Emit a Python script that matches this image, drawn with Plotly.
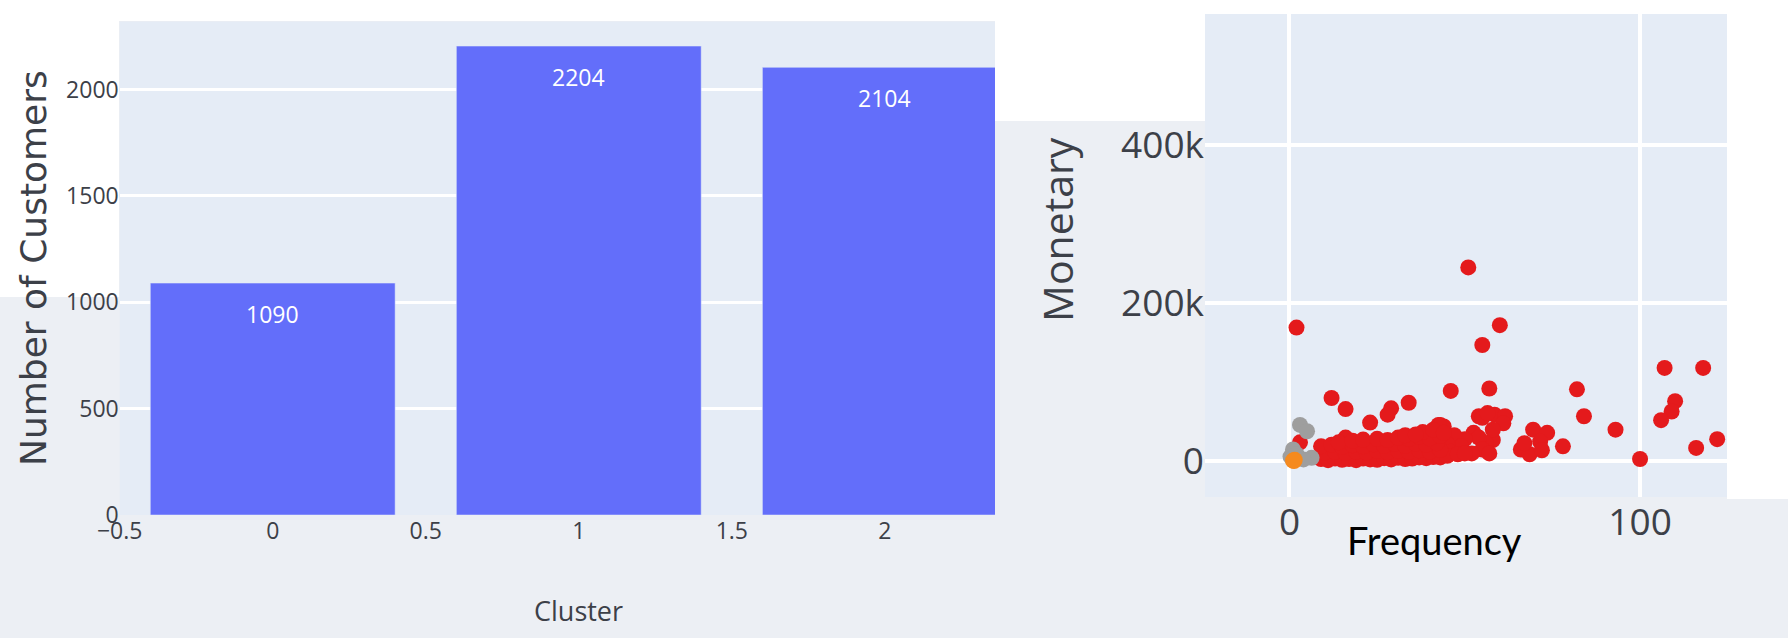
import plotly.graph_objects as go

# cluster sizes (left chart)
clusters = [0, 1, 2]
customers = [1090, 2204, 2104]

# RFM scatter (right chart), one list pair per cluster colour
red_freq = [2, 51, 55, 60, 12, 16, 34, 29, 28, 23, 46, 57, 43, 54, 82, 84, 93,
            100, 107, 118, 110, 109, 106, 116, 122, 55, 58.5, 61.5, 61, 56.5,
            69.5, 73.5, 71.5, 66, 68.5, 72, 78, 67, 44, 52.5, 58, 58, 56, 54,
            50, 47, 55, 52, 49, 45, 46, 57, 42.5, 16, 3,
            9, 11, 13, 15, 17, 19, 21, 23, 25, 27, 29, 31, 33, 35, 37, 39, 41,
            43, 45, 48, 50,
            10, 13, 16, 19, 22, 25, 28, 31, 34, 37, 40, 43,
            9, 12, 15, 18, 21, 24, 27, 30, 33, 36, 39, 42,
            14, 18, 21, 25, 28, 31, 34, 37, 40, 43,
            33, 38, 41, 44, 36]
red_monetary = [169000, 245000, 147000, 172000, 80000, 66000, 74000, 67000,
                59000, 49000, 89000, 92000, 46000, 57000, 91000, 57000, 40000,
                3000, 118000, 118000, 76000, 63000, 52000, 17000, 28000, 55000,
                59000, 57000, 48000, 61000, 40000, 36000, 25000, 15000, 9000,
                14000, 19000, 23000, 44000, 36000, 27000, 40000, 23000, 30000,
                28000, 33000, 15000, 10000, 19000, 22000, 12000, 10000, 46000,
                30000, 24000,
                3000, 1500, 3500, 2000, 3000, 1500, 3500, 2500, 2000, 4000,
                2500, 4500, 3000, 3500, 5000, 4000, 5500, 5000, 7000, 9000,
                10000,
                11000, 12000, 10500, 12500, 11000, 13000, 11500, 13500, 12000,
                14000, 12500, 14500,
                19000, 21000, 18500, 20500, 19000, 21500, 19500, 22000, 20000,
                22500, 21000, 23000,
                24000, 26000, 27500, 28500, 27000, 30000, 28500, 31000, 29000,
                32000,
                33000, 37000, 40000, 36000, 34000]
grey_freq = [3, 5, 1, 6.3, 0.3, 2, 4]
grey_monetary = [46000, 38000, 15000, 4500, 6000, 9000, 2500]
orange_freq = [1.5, 1, 1.3]
orange_monetary = [2000, 1000, 500]

W, H = 1788, 638
PAPER = '#eceff4'
TXT = '#3c4048'


def px_x(p):
    return p / W


def px_y(p):
    return 1 - p / H


fig = go.Figure()

fig.add_trace(go.Bar(x=clusters, y=customers, marker_color='#636efa',
                     xaxis='x', yaxis='y', showlegend=False))

for fx, my, col in [(red_freq, red_monetary, '#e41a1c'),
                    (grey_freq, grey_monetary, '#9e9e9e'),
                    (orange_freq, orange_monetary, '#f58a1f')]:
    fig.add_trace(go.Scatter(x=fx, y=my, mode='markers',
                             marker=dict(size=16, color=col),
                             xaxis='x2', yaxis='y2', showlegend=False))

# bar value labels sit a bit below the top of each bar
annotations = []
for c, n in zip(clusters, customers):
    annotations.append(dict(x=c, y=n, xref='x', yref='y', text=str(n),
                            showarrow=False, yshift=-31,
                            xanchor='center', yanchor='middle',
                            font=dict(family='Open Sans', size=23,
                                      color='white')))

annotations += [
    dict(x=px_x(33), y=px_y(268), xref='paper', yref='paper',
         text='Number of Customers', textangle=-90,
         font=dict(family='DejaVu Sans', size=36, color=TXT)),
    dict(x=1, y=px_y(610), xref='x', yref='paper', text='Cluster',
         font=dict(family='Open Sans', size=27, color=TXT)),
    dict(x=px_x(1057), y=px_y(230), xref='paper', yref='paper',
         text='Monetary', textangle=-90,
         font=dict(family='Open Sans', size=41, color=TXT)),
    dict(x=px_x(1434), y=px_y(540), xref='paper', yref='paper',
         text='Frequency', font=dict(family='Lato', size=38, color='black')),
]
for a in annotations[3:]:
    a.update(showarrow=False, xanchor='center', yanchor='middle')

# white strips left over from the screenshot collage
white_boxes = [(0, 995, 0, 21), (0, 119, 0, 297), (995, 1205, 0, 121),
               (1205, 1788, 0, 14), (1727, 1788, 0, 499)]
shapes = [dict(type='rect', xref='paper', yref='paper', layer='below',
               x0=px_x(a), x1=px_x(b), y0=px_y(d), y1=px_y(c),
               fillcolor='white', line_width=0)
          for a, b, c, d in white_boxes]

fig.update_layout(
    width=W, height=H,
    margin=dict(l=0, r=0, t=0, b=0, autoexpand=False),
    paper_bgcolor=PAPER,
    plot_bgcolor='#e5ecf6',
    bargap=0.2,
    annotations=annotations,
    shapes=shapes,
    xaxis=dict(domain=[px_x(119.7), px_x(995)], range=[-0.5, 2.36],
               dtick=0.5, showgrid=False, zeroline=False,
               tickfont=dict(family='Open Sans', size=23, color=TXT)),
    yaxis=dict(domain=[px_y(515), px_y(21.6)], range=[0, 2319],
               dtick=500, gridcolor='white', gridwidth=3, zeroline=False,
               tickfont=dict(family='Open Sans', size=23, color=TXT)),
    xaxis2=dict(domain=[px_x(1205), px_x(1727)], range=[-24.1, 124.8],
                anchor='y2', dtick=100, gridcolor='white', gridwidth=4,
                zerolinecolor='white', zerolinewidth=4,
                tickfont=dict(family='Open Sans', size=37, color=TXT)),
    yaxis2=dict(domain=[px_y(497), px_y(14)], range=[-45000, 565000],
                anchor='x2', dtick=200000, gridcolor='white', gridwidth=4,
                zerolinecolor='white', zerolinewidth=4,
                tickfont=dict(family='Open Sans', size=37, color=TXT)),
)
# keep the subplot boxes exactly where the domains put them
fig.update_xaxes(automargin=False)
fig.update_yaxes(automargin=False)

# drop the page's default 8px body margin so the figure sits at 0,0
fig.write_html("out.html", config={'displayModeBar': False},
               post_script="document.body.style.margin='0';")
